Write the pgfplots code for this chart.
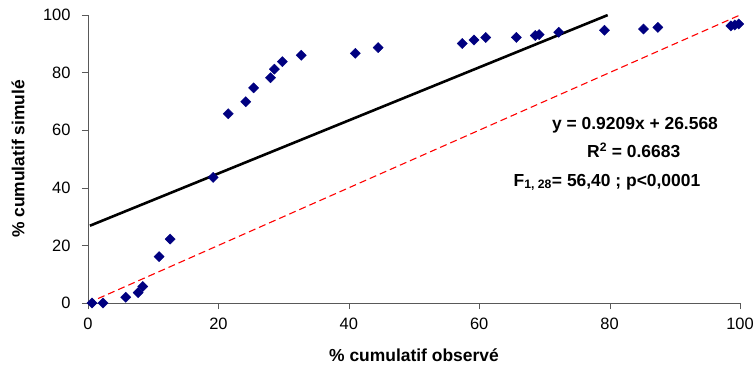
\documentclass[border=0pt]{standalone}
\usepackage{pgfplots}
\pgfplotsset{compat=1.18}
\usepackage{fontspec}
\setmainfont{Liberation Sans}
\definecolor{navy}{RGB}{0,0,128}
\begin{document}
\begin{tikzpicture}
\begin{axis}[
  scale only axis, width=652bp, height=288bp,
  xmin=0, xmax=100, ymin=0, ymax=100,
  axis x line*=bottom, axis y line*=left,
  axis line style={-, draw=gray!70!black},
  tick style={draw=gray!70!black},
  tick align=outside, major tick length=6bp,
  xtick={0,20,...,100}, ytick={0,20,...,100},
  ticklabel style={font=\fontsize{16.5}{18}\selectfont},
  xticklabel shift=5bp,
  yticklabel shift=8bp,
  /pgf/number format/assume math mode=true,
  xlabel={\textbf{\% cumulatif observé}},
  label style={font=\fontsize{17.5}{20}\selectfont},
  xlabel style={at={(axis description cs:0.5,0)}, anchor=center, yshift=-52bp},
  clip=true,
]
\addplot[red, line width=1.1bp, dash pattern=on 7bp off 4bp] coordinates {(0,0) (100,100)};
\addplot[black, line width=2.6bp] coordinates {(0.3,26.84) (79.7,99.96)};
\addplot[only marks, mark=square*, mark size=3.6bp, mark options={rotate=45, fill=navy, draw=navy}] coordinates {
(0.6,0) (2.3,0) (5.8,2) (7.7,3.6) (8.4,5.7) (10.9,16.1) (12.6,22.2) (19.2,43.6)
(21.5,65.7) (24.2,69.9) (25.4,74.7) (28.0,78.2) (28.6,81.2) (29.8,83.8) (32.7,86.0)
(41.0,86.7) (44.5,88.7) (57.4,90.1) (59.2,91.3) (61.0,92.2) (65.7,92.2) (68.6,92.9)
(69.2,93.2) (72.2,94.0) (79.2,94.7) (85.2,95.1) (87.4,95.7) (98.6,96.2) (99.2,96.5) (99.8,96.9)
};
\node[font=\bfseries\fontsize{17.5}{20}\selectfont] at (axis cs:83.9,61.8) {y = 0.9209x + 26.568};
\node[font=\bfseries\fontsize{17.5}{20}\selectfont] at (axis cs:83.7,53.1) {R\textsuperscript{2} = 0.6683};
\node[font=\bfseries\fontsize{17.5}{20}\selectfont] at (axis cs:79.6,41.9) {F\textsubscript{1, 28}= 56,40 ; p<0,0001};
\end{axis}
\node[font=\bfseries\fontsize{17.5}{20}\selectfont, rotate=90] at (-70bp,144bp) {\% cumulatif simulé};
\pgfresetboundingbox
\useasboundingbox (-88bp,-70bp) rectangle (665bp,303bp);
\end{tikzpicture}
\end{document}
